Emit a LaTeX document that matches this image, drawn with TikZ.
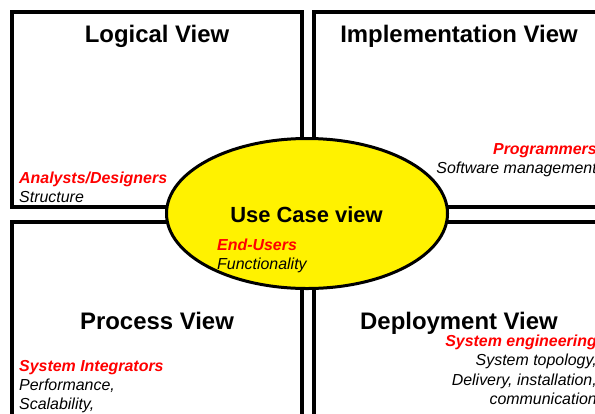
\documentclass[tikz,border=0pt]{standalone}
\usepackage{fontspec}
\setmainfont{Liberation Sans}
\begin{document}
\begin{tikzpicture}[x=1bp,y=-1bp,
    viewbox/.style={line width=3.5bp},
    title/.style={font=\fontsize{24}{29}\selectfont\bfseries, inner sep=0pt},
    role/.style={font=\fontsize{16}{19}\selectfont\bfseries\itshape, text=red, inner sep=0pt},
    concern/.style={font=\fontsize{16}{19}\selectfont\itshape, inner sep=0pt}]
    \useasboundingbox (0,0) rectangle (595,413);
    \clip (0,0) rectangle (595,413);
    \fill[white] (0,0) rectangle (595,413);
    % the four views
    \draw[viewbox] (12,12) rectangle (302,207);
    \draw[viewbox] (314,12) rectangle (604,207);
    \draw[viewbox] (12,222) rectangle (302,430);
    \draw[viewbox] (314,222) rectangle (604,430);
    % use cases in the middle
    \draw[line width=3bp, fill=yellow] (307,213.5) ellipse [x radius=140.5bp, y radius=75bp];
    \node[title, anchor=base] (logical) at (157,42) {Logical View};
    \node[title, anchor=base] (impl) at (459,42) {Implementation View};
    \node[title, font=\fontsize{22}{26}\selectfont\bfseries, anchor=base] (usecase) at (306.5,222) {Use Case view};
    \node[title, anchor=base] (process) at (157,329) {Process View};
    \node[title, anchor=base] (deploy) at (459,329) {Deployment View};
    \node[role, anchor=base west] (analysts) at (19,183) {Analysts/Designers};
    \node[concern, anchor=base west] (structure) at (19,202.5) {Structure};
    \node[role, anchor=base east] (programmers) at (597,154) {Programmers};
    \node[concern, anchor=base east] (swmgmt) at (597,173) {Software management};
    \node[role, anchor=base west] (endusers) at (217,250) {End-Users};
    \node[concern, anchor=base west] (function) at (217,269) {Functionality};
    \node[role, anchor=base west] (integrators) at (19,371) {System Integrators};
    \node[concern, anchor=base west] (perf) at (19,390) {Performance,};
    \node[concern, anchor=base west] (scal) at (19,409) {Scalability,};
    \node[role, anchor=base east] (syseng) at (597,346) {System engineering};
    \node[concern, anchor=base east] (topology) at (597,365) {System topology,};
    \node[concern, anchor=base east] (delivery) at (597,385) {Delivery, installation,};
    \node[concern, anchor=base east] (comm) at (597,404) {communication};
\end{tikzpicture}
\end{document}
